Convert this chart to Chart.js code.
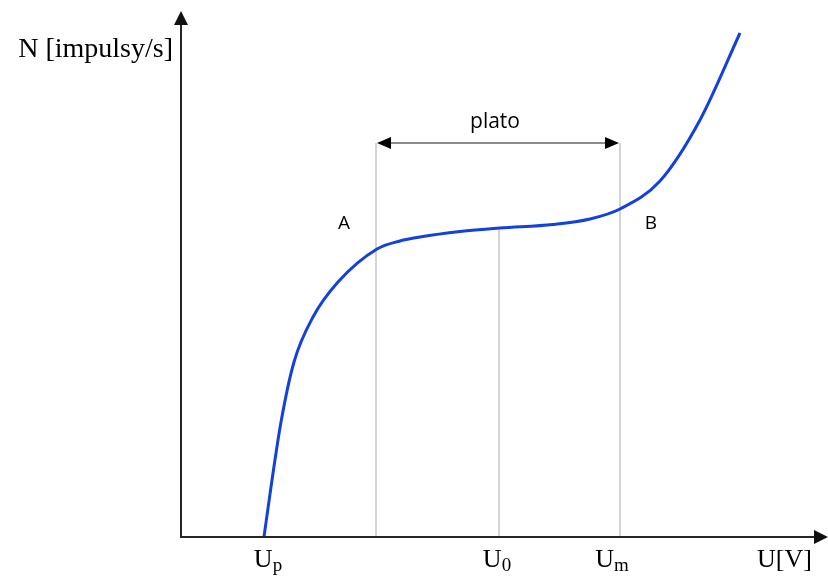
<!DOCTYPE html>
<html>
<head>
<meta charset="utf-8">
<script src="https://cdn.jsdelivr.net/npm/chart.js@4.4.1/dist/chart.umd.min.js"></script>
<style>
  html, body { margin: 0; padding: 0; background: #fff; }
  canvas { display: block; }
</style>
</head>
<body>
<canvas id="plateau" width="828" height="578"></canvas>
<script>
// counting characteristic: voltage U vs. count rate N (arbitrary units)
const curveU = [83, 90, 100, 113, 132, 157, 196, 219, 239, 279, 319, 372, 409, 439, 479, 519, 559];
const curveN = [0, 50, 115, 175, 220, 255, 288, 296, 300, 305.5, 309, 312.5, 318, 328, 356, 417, 504];

// characteristic voltages along the U axis
const uP = 83;
const uA = 195;
const u0 = 318;
const uM = 439;
const plateauN = 394; // height of the "plato" bracket
const n0 = 309;       // count rate at U0

const curvePoints = curveU.map((u, i) => ({ x: u, y: curveN[i] }));

function vline(u, top) {
    return {
        data: [{ x: u, y: 0 }, { x: u, y: top }],
        borderColor: '#d4d4d4',
        borderWidth: 2,
        pointRadius: 0,
        showLine: true,
        order: 2
    };
}

function arrowHead(ctx, x, y, dir, len, half) {
    // dir: 'left' | 'right' | 'up'
    ctx.beginPath();
    if (dir === 'left') {
        ctx.moveTo(x, y); ctx.lineTo(x + len, y - half); ctx.lineTo(x + len, y + half);
    } else if (dir === 'right') {
        ctx.moveTo(x, y); ctx.lineTo(x - len, y - half); ctx.lineTo(x - len, y + half);
    } else {
        ctx.moveTo(x, y); ctx.lineTo(x - half, y + len); ctx.lineTo(x + half, y + len);
    }
    ctx.closePath();
    ctx.fill();
}

// U with a lowered subscript, centred on x
function subLabel(ctx, base, sub, x, y) {
    ctx.font = '26px "Liberation Serif", serif';
    const w1 = ctx.measureText(base).width;
    ctx.font = '19px "Liberation Serif", serif';
    const w2 = ctx.measureText(sub).width;
    const left = x - (w1 + w2) / 2;
    ctx.textAlign = 'left';
    ctx.textBaseline = 'alphabetic';
    ctx.font = '26px "Liberation Serif", serif';
    ctx.fillText(base, left, y);
    ctx.font = '19px "Liberation Serif", serif';
    ctx.fillText(sub, left + w1, y + 4);
}

const decorations = {
    id: 'decorations',
    afterDatasetsDraw(chart) {
        const ctx = chart.ctx;
        const xs = chart.scales.x;
        const ys = chart.scales.y;
        const x0 = xs.getPixelForValue(0);
        const y0 = ys.getPixelForValue(0);

        ctx.save();
        // axes with arrows
        ctx.strokeStyle = '#262626';
        ctx.fillStyle = '#111';
        ctx.lineWidth = 2;
        ctx.beginPath();
        ctx.moveTo(x0, y0);
        ctx.lineTo(x0, 22);
        ctx.moveTo(x0 - 1, y0);
        ctx.lineTo(chart.width - 10, y0);
        ctx.stroke();
        arrowHead(ctx, x0, 11, 'up', 14, 7);
        arrowHead(ctx, chart.width, y0, 'right', 14, 7);

        // plateau bracket
        const ya = ys.getPixelForValue(plateauN);
        const xa = xs.getPixelForValue(uA);
        const xb = xs.getPixelForValue(uM);
        ctx.strokeStyle = '#8c8c8c';
        ctx.lineWidth = 2;
        ctx.beginPath();
        ctx.moveTo(xa + 8, ya);
        ctx.lineTo(xb - 8, ya);
        ctx.stroke();
        ctx.fillStyle = '#000';
        arrowHead(ctx, xa + 1, ya, 'left', 14, 6);
        arrowHead(ctx, xb - 1, ya, 'right', 14, 6);

        // sans labels
        ctx.fillStyle = '#000';
        ctx.textAlign = 'center';
        ctx.textBaseline = 'alphabetic';
        ctx.font = '21px "Open Sans", sans-serif';
        ctx.fillText('plato', (xa + xb) / 2 - 3, ya - 15);
        ctx.font = '19px "Open Sans", sans-serif';
        ctx.fillText('A', xa - 32, ys.getPixelForValue(288) - 20);
        ctx.fillText('B', xb + 31, ys.getPixelForValue(288) - 20);

        // serif axis labels
        ctx.font = '28px "Liberation Serif", serif';
        ctx.textAlign = 'right';
        ctx.fillText('N [impulsy/s]', x0 - 8, 57);
        ctx.font = '26px "Liberation Serif", serif';
        ctx.textAlign = 'left';
        ctx.fillText('U[V]', 757, y0 + 30);

        const ty = y0 + 30;
        subLabel(ctx, 'U', 'p', xs.getPixelForValue(uP) + 4, ty);
        subLabel(ctx, 'U', '0', xs.getPixelForValue(u0) - 2, ty);
        subLabel(ctx, 'U', 'm', xs.getPixelForValue(uM) - 8, ty);
        ctx.restore();
    }
};

new Chart(document.getElementById('plateau'), {
    type: 'scatter',
    data: {
        datasets: [
            {
                data: curvePoints,
                borderColor: '#1440dc',
                borderWidth: 3,
                pointRadius: 0,
                showLine: true,
                cubicInterpolationMode: 'monotone',
                order: 1
            },
            vline(uA, plateauN),
            vline(u0, n0),
            vline(uM, plateauN)
        ]
    },
    options: {
        responsive: false,
        animation: false,
        devicePixelRatio: 1,
        layout: { padding: { left: 181, right: 8, top: 17, bottom: 41 } },
        plugins: { legend: { display: false }, tooltip: { enabled: false } },
        scales: {
            x: { type: 'linear', min: 0, max: 639, display: false },
            y: { type: 'linear', min: 0, max: 520, display: false }
        }
    },
    plugins: [decorations]
});
</script>
</body>
</html>
